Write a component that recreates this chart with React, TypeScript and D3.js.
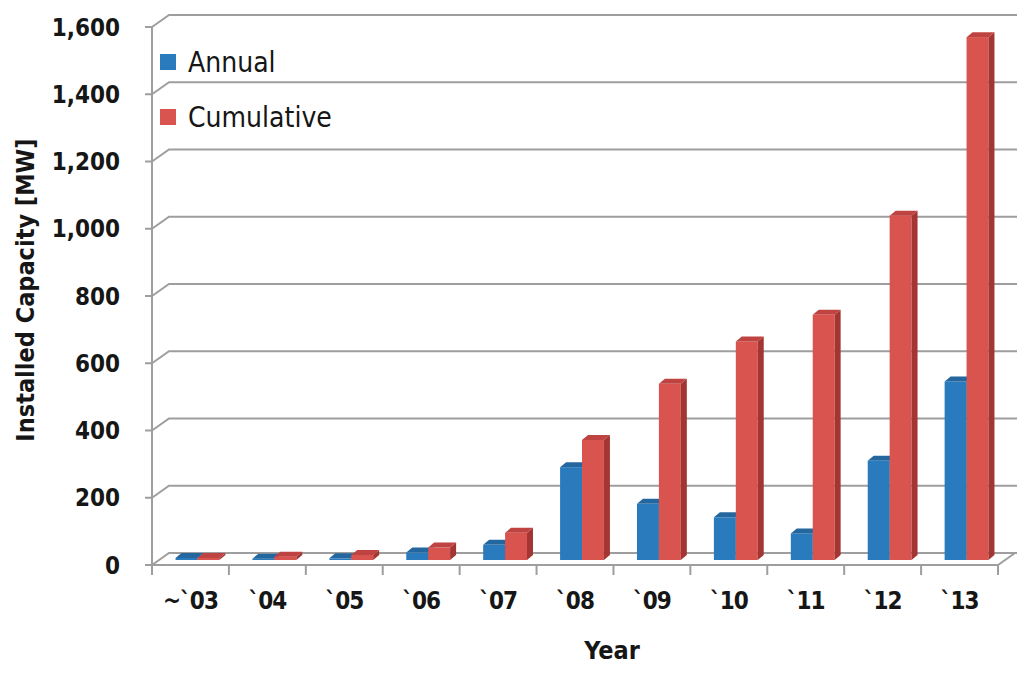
import React from "react";
import * as d3 from "d3";

const years = ["~`03", "`04", "`05", "`06", "`07", "`08", "`09", "`10", "`11", "`12", "`13"];
const annual = [6, 4, 5, 22, 45, 276, 167, 127, 79, 295, 531];
const cumulative = [6, 10, 15, 37, 81, 357, 524, 650, 729, 1024, 1555];
const yTicks = [0, 200, 400, 600, 800, 1000, 1200, 1400, 1600];
const seriesNames = ["Annual", "Cumulative"];

const W = 1024;
const H = 673;

// front plane and 3d depth
const left = 152;
const right = 998;
const depth = { dx: 17, dy: -12 };
const barShift = { dx: 7, dy: -5 };
const barDepth = { dx: 6, dy: -5 };

const font = "'DejaVu Sans Condensed', 'DejaVu Sans', sans-serif";
const gridColor = "#9e9e9e";
const textColor = "#161616";

const colors = {
  Annual: { front: "#2a7bbd", side: "#1d5a8c", top: "#24679f" },
  Cumulative: { front: "#d9534f", side: "#a33532", top: "#bf4340" },
};

export default function App() {
  const x = d3.scaleBand<string>().domain(years).range([left, right]).paddingInner(0.43).paddingOuter(0.215);
  const xCat = d3.scaleBand<string>().domain(years).range([left, right]);
  const xSub = d3.scaleBand<string>().domain(seriesNames).range([0, x.bandwidth()]);
  const y = d3.scaleLinear().domain([0, 1600]).range([565, 27]);

  const bars: React.ReactNode[] = [];
  years.forEach((yr, i) => {
    [annual[i], cumulative[i]].forEach((v, j) => {
      const name = seriesNames[j] as "Annual" | "Cumulative";
      const c = colors[name];
      const x0 = (x(yr) as number) + (xSub(name) as number) + barShift.dx;
      const w = xSub.bandwidth();
      const yb = y(0) + barShift.dy;
      const yt = y(v) + barShift.dy;
      const x1 = x0 + w;
      bars.push(
        <g key={`${yr}-${name}`}>
          <rect x={x0} y={yt} width={w} height={yb - yt} fill={c.front} />
          <polygon
            points={`${x1},${yt} ${x1 + barDepth.dx},${yt + barDepth.dy} ${x1 + barDepth.dx},${yb + barDepth.dy} ${x1},${yb}`}
            fill={c.side}
          />
          <polygon
            points={`${x0},${yt} ${x0 + barDepth.dx},${yt + barDepth.dy} ${x1 + barDepth.dx},${yt + barDepth.dy} ${x1},${yt}`}
            fill={c.top}
          />
        </g>
      );
    });
  });

  return (
    <svg width={W} height={H} style={{ position: "absolute", left: 0, top: 0, background: "#fff" }}>
      {/* back wall gridlines */}
      {yTicks.map((t) => (
        <g key={t}>
          <polyline
            points={`${left},${y(t)} ${left + depth.dx},${y(t) + depth.dy} ${right + depth.dx + 2},${y(t) + depth.dy}`}
            fill="none"
            stroke={gridColor}
            strokeWidth={2}
          />
          <line x1={left - 7} x2={left} y1={y(t)} y2={y(t)} stroke={gridColor} strokeWidth={2} />
          <text
            x={120}
            y={y(t)}
            dy="0.36em"
            textAnchor="end"
            fontFamily={font}
            fontWeight="bold"
            fontSize={24}
            fill={textColor}
          >
            {d3.format(",")(t)}
          </text>
        </g>
      ))}

      {/* floor */}
      <polyline
        points={`${left},${y(0)} ${right},${y(0)} ${right + depth.dx},${y(0) + depth.dy}`}
        fill="none"
        stroke={gridColor}
        strokeWidth={2}
      />
      <line x1={left} x2={left} y1={y(1600)} y2={y(0) + 10} stroke={gridColor} strokeWidth={2} />

      {/* category ticks */}
      {years.map((yr) => (
        <line
          key={yr}
          x1={(xCat(yr) as number) + xCat.bandwidth()}
          x2={(xCat(yr) as number) + xCat.bandwidth()}
          y1={y(0)}
          y2={y(0) + 10}
          stroke={gridColor}
          strokeWidth={2}
        />
      ))}

      {bars}

      {/* x labels */}
      {years.map((yr) => (
        <text
          key={yr}
          x={(xCat(yr) as number) + xCat.bandwidth() / 2}
          y={609}
          textAnchor="middle"
          fontFamily={font}
          fontWeight="bold"
          fontSize={24}
          letterSpacing={-1}
          fill={textColor}
        >
          {yr}
        </text>
      ))}

      <text x={612} y={659} textAnchor="middle" fontFamily={font} fontWeight="bold" fontSize={25} fill={textColor}>
        Year
      </text>
      <text
        transform={`translate(34,${290}) rotate(-90)`}
        textAnchor="middle"
        fontFamily={font}
        fontWeight="bold"
        fontSize={25}
        fill={textColor}
      >
        Installed Capacity [MW]
      </text>

      {/* legend */}
      {seriesNames.map((name, i) => (
        <g key={name} transform={`translate(160,${62 + i * 55})`}>
          <rect x={0} y={-8} width={16} height={16} fill={colors[name as "Annual" | "Cumulative"].front} />
          <text x={28} y={0} dy="0.36em" fontFamily={font} fontSize={28} fontWeight={500} fill={textColor}>
            {name}
          </text>
        </g>
      ))}
    </svg>
  );
}
